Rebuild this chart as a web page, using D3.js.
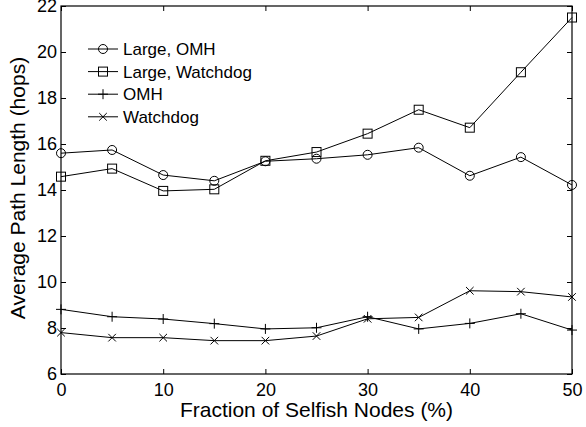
<!DOCTYPE html>
<html>
<head>
<meta charset="utf-8">
<script src="https://cdn.jsdelivr.net/npm/d3@7"></script>
<style>
  body { margin: 0; background: #fff; }
  text { font-family: "Liberation Sans", Arial, sans-serif; fill: #000; }
</style>
</head>
<body>
<svg id="chart"></svg>
<script>
const fractions = [0, 5, 10, 15, 20, 25, 30, 35, 40, 45, 50];
const largeOmh = [15.6, 15.74, 14.65, 14.4, 15.25, 15.36, 15.53, 15.84, 14.62, 15.43, 14.22];
const largeWatchdog = [14.58, 14.93, 13.96, 14.03, 15.27, 15.65, 16.45, 17.49, 16.71, 19.12, 21.5];
const omh = [8.81, 8.49, 8.39, 8.19, 7.96, 8.01, 8.49, 7.96, 8.2, 8.62, 7.91];
const watchdog = [7.8, 7.58, 7.58, 7.45, 7.45, 7.65, 8.4, 8.46, 9.62, 9.58, 9.35];
const xTicks = [0, 10, 20, 30, 40, 50];
const yTicks = [6, 8, 10, 12, 14, 16, 18, 20, 22];

const series = [
  { name: 'Large, OMH', values: largeOmh, marker: 'circle' },
  { name: 'Large, Watchdog', values: largeWatchdog, marker: 'square' },
  { name: 'OMH', values: omh, marker: 'plus' },
  { name: 'Watchdog', values: watchdog, marker: 'cross' },
];

const width = 586;
const height = 427;
const plotLeft = 61, plotRight = 572, plotTop = 6, plotBottom = 374;
const tickLen = 5;

const svg = d3.select('#chart')
  .attr('width', width)
  .attr('height', height);

const x = d3.scaleLinear().domain([0, 50]).range([plotLeft, plotRight]);
const y = d3.scaleLinear().domain([6, 22]).range([plotBottom, plotTop]);

// axes with inward ticks on all four sides
const axisStyle = g => {
  g.select('.domain').remove();
  g.selectAll('line').attr('stroke', '#000');
};

svg.append('g')
  .attr('transform', `translate(0,${plotBottom})`)
  .call(d3.axisBottom(x).tickValues(xTicks).tickSizeInner(-tickLen).tickSizeOuter(0).tickPadding(9))
  .call(axisStyle)
  .selectAll('text').attr('font-size', 18);

svg.append('g')
  .attr('transform', `translate(0,${plotTop})`)
  .call(d3.axisTop(x).tickValues(xTicks).tickSizeInner(-tickLen).tickSizeOuter(0).tickFormat(''))
  .call(axisStyle);

svg.append('g')
  .attr('transform', `translate(${plotLeft},0)`)
  .call(d3.axisLeft(y).tickValues(yTicks).tickSizeInner(-tickLen).tickSizeOuter(0).tickPadding(4))
  .call(axisStyle)
  .selectAll('text').attr('font-size', 18);

svg.append('g')
  .attr('transform', `translate(${plotRight},0)`)
  .call(d3.axisRight(y).tickValues(yTicks).tickSizeInner(-tickLen).tickSizeOuter(0).tickFormat(''))
  .call(axisStyle);

svg.selectAll('.tick text').attr('fill', '#000');

svg.append('rect')
  .attr('x', plotLeft).attr('y', plotTop)
  .attr('width', plotRight - plotLeft).attr('height', plotBottom - plotTop)
  .attr('fill', 'none').attr('stroke', '#000').attr('stroke-width', 1.2);

const line = d3.line()
  .x((d, i) => x(fractions[i]))
  .y(d => y(d));

function drawMarker(g, type) {
  if (type === 'circle') {
    g.append('circle').attr('r', 4.5).attr('fill', 'none').attr('stroke', '#000');
  } else if (type === 'square') {
    g.append('rect').attr('x', -4.5).attr('y', -4.5).attr('width', 9).attr('height', 9)
      .attr('fill', 'none').attr('stroke', '#000');
  } else if (type === 'plus') {
    g.append('path').attr('d', 'M-5,0H5M0,-5V5').attr('stroke', '#000');
  } else {
    g.append('path').attr('d', 'M-3.8,-3.8L3.8,3.8M-3.8,3.8L3.8,-3.8').attr('stroke', '#000');
  }
}

series.forEach(s => {
  svg.append('path')
    .datum(s.values)
    .attr('d', line)
    .attr('fill', 'none')
    .attr('stroke', '#000')
    .attr('stroke-width', 1);

  svg.append('g').selectAll('g')
    .data(s.values)
    .enter().append('g')
    .attr('transform', (d, i) => `translate(${x(fractions[i])},${y(d)})`)
    .each(function () { drawMarker(d3.select(this), s.marker); });
});

// legend
const legend = svg.append('g');
series.forEach((s, i) => {
  const ly = 49 + i * 22.6;
  legend.append('line')
    .attr('x1', 88).attr('x2', 118).attr('y1', ly).attr('y2', ly)
    .attr('stroke', '#000');
  drawMarker(legend.append('g').attr('transform', `translate(103,${ly})`), s.marker);
  legend.append('text')
    .attr('x', 123).attr('y', ly + 6)
    .attr('font-size', 17)
    .text(s.name);
});

svg.append('text')
  .attr('x', (plotLeft + plotRight) / 2).attr('y', 417)
  .attr('text-anchor', 'middle')
  .attr('font-size', 21)
  .text('Fraction of Selfish Nodes (%)');

svg.append('text')
  .attr('transform', 'translate(25,188) rotate(-90)')
  .attr('text-anchor', 'middle')
  .attr('font-size', 21)
  .text('Average Path Length (hops)');
</script>
</body>
</html>
